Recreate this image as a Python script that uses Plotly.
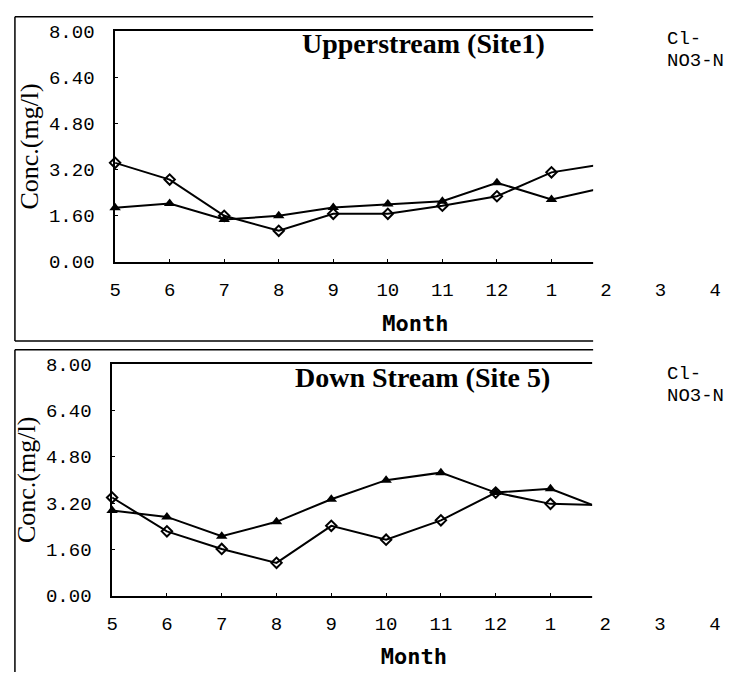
import plotly.graph_objects as go

# ---------------- data ----------------
months = ["5", "6", "7", "8", "9", "10", "11", "12", "1", "2", "3", "4"]
data_months = ["5", "6", "7", "8", "9", "10", "11", "12", "1", "2"]

up_cl = [3.43, 2.85, 1.59, 1.07, 1.66, 1.66, 1.94, 2.27, 3.10, 3.40]
up_no3 = [1.87, 2.02, 1.46, 1.59, 1.88, 2.00, 2.10, 2.74, 2.16, 2.58]

down_cl = [3.39, 2.22, 1.61, 1.13, 2.41, 1.93, 2.60, 3.56, 3.17, 3.12]
down_no3 = [2.94, 2.72, 2.05, 2.55, 3.33, 3.99, 4.25, 3.56, 3.69, 2.96]

y_ticks = [0.0, 1.6, 3.2, 4.8, 6.4, 8.0]
series_names = ["Cl-", "NO3-N"]
titles = ["Upperstream (Site1)", "Down Stream (Site 5)"]

# ---------------- layout constants ----------------
W, H = 729, 685


def px(x):
    return x / W


def py(y):
    return (H - y) / H


SERIF = "Liberation Serif"
MONO = "Liberation Mono"
MONO_B = "DejaVu Sans Mono"

fig = go.Figure()

panels = [
    dict(cl=up_cl, no3=up_no3, xa="x", ya="y", left=110, top=23, bottom=261, step=55.0),
    dict(cl=down_cl, no3=down_no3, xa="x2", ya="y2", left=107, top=367, bottom=606, step=55.25),
]

for i, p in enumerate(panels):
    fig.add_trace(go.Scatter(
        x=data_months, y=p["cl"], name=series_names[0], mode="lines+markers",
        xaxis=p["xa"], yaxis=p["ya"], cliponaxis=False, showlegend=False,
        line=dict(color="black", width=2),
        marker=dict(symbol="diamond-open", size=8, color="black", line=dict(width=2, color="black")),
    ))
    fig.add_trace(go.Scatter(
        x=data_months, y=p["no3"], name=series_names[1], mode="lines+markers",
        xaxis=p["xa"], yaxis=p["ya"], cliponaxis=False, showlegend=False,
        line=dict(color="black", width=2),
        marker=dict(symbol="triangle-up", size=10, color="black"),
    ))

tickfont = dict(family=MONO, size=19, color="black")

for i, p in enumerate(panels):
    sfx = "" if i == 0 else "2"
    xr = (W - p["left"]) / p["step"]
    fig.layout["xaxis" + sfx] = dict(
        type="category", categoryorder="array", categoryarray=months,
        range=[0, xr], domain=[px(p["left"]), 1.0],
        anchor="y" + sfx, showgrid=False, zeroline=False,
        showline=True, linecolor="black", linewidth=1.5, mirror=True,
        ticks="inside", ticklen=3, tickcolor="black",
        tickfont=tickfont, ticklabelstandoff=10,
        title=dict(text="Month&nbsp;", font=dict(family=MONO_B, size=22, color="black", weight="bold"), standoff=14),
    )
    fig.layout["yaxis" + sfx] = dict(
        range=[0, 8], domain=[py(p["bottom"]), py(p["top"])],
        anchor="x" + sfx, showgrid=False, zeroline=False,
        showline=True, linecolor="black", linewidth=1.5,
        tickvals=y_ticks, tickformat=".2f",
        ticks="inside", ticklen=3, tickcolor="black",
        tickfont=tickfont, ticklabelstandoff=15,
        title=dict(text="Conc.(mg/l)", font=dict(family=SERIF, size=26, color="black"), standoff=3),
    )

shapes = []
# white cover hiding the plot beyond the clipped right edge
for p, x0 in [(panels[0], 592), (panels[1], 591)]:
    shapes.append(dict(type="rect", xref="paper", yref="paper", layer="above",
                       x0=px(x0), x1=1.0, y0=py(p["bottom"] + 4), y1=py(p["top"] - 4),
                       fillcolor="white", line=dict(width=0)))
# outer frames
frame = dict(type="line", xref="paper", yref="paper", line=dict(color="black", width=1.5))
shapes += [
    dict(frame, x0=px(9), x1=px(592), y0=py(8), y1=py(8)),
    dict(frame, x0=px(9), x1=px(9), y0=py(8), y1=py(343)),
    dict(frame, x0=px(9), x1=px(592), y0=py(343), y1=py(343)),
    dict(frame, x0=px(9), x1=px(592), y0=py(352), y1=py(352)),
    dict(frame, x0=px(9), x1=px(9), y0=py(352), y1=0),
]

annotations = []
for t, (x, y) in zip(titles, [(296, 36), (289, 381)]):
    annotations.append(dict(text="<b>%s</b>" % t, xref="paper", yref="paper",
                            x=px(x), y=py(y), xanchor="left", yanchor="middle", showarrow=False,
                            font=dict(family=SERIF, size=28, color="black")))
for top in (31, 377):
    for j, name in enumerate(series_names):
        annotations.append(dict(text=name, xref="paper", yref="paper",
                                x=px(664), y=py(top + 23 * j), xanchor="left", yanchor="middle",
                                showarrow=False, font=dict(family=MONO, size=19, color="black")))

fig.update_layout(
    width=W, height=H, margin=dict(l=0, r=0, t=0, b=0),
    paper_bgcolor="white", plot_bgcolor="white",
    shapes=shapes, annotations=annotations, showlegend=False,
)

fig.write_html(
    "out.html",
    config={"displayModeBar": False},
    post_script="document.body.style.margin='0';document.body.style.overflow='hidden';",
)
